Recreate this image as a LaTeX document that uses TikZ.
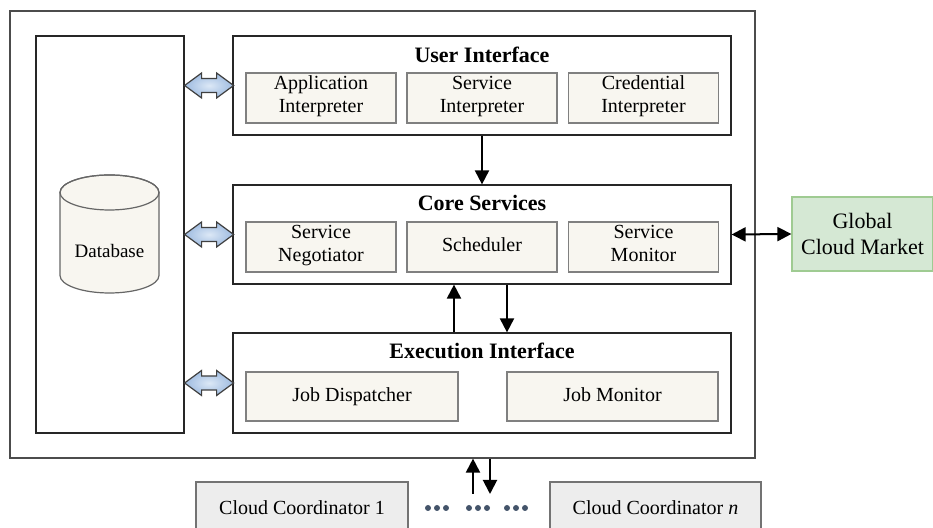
\documentclass[tikz,border=0pt]{standalone}
\usepackage{fontspec}
\setmainfont{Liberation Serif}
\usetikzlibrary{arrows.meta}

\definecolor{compfill}{HTML}{F8F6F0}
\definecolor{gcmfill}{HTML}{D5E8D4}
\definecolor{gcmline}{HTML}{9FCB92}
\definecolor{coordfill}{HTML}{EDEDED}
\definecolor{arrlight}{HTML}{DCE8F6}
\definecolor{arrdark}{HTML}{9EBBE0}
\definecolor{dotc}{HTML}{44546A}

\begin{document}
\begin{tikzpicture}[x=0.5pt,y=0.5pt,
    box/.style={draw=black!85,line width=0.6pt,fill=white,inner sep=0pt},
    comp/.style={draw=black!50,line width=0.6pt,fill=compfill,inner sep=0pt,minimum height=25pt,align=center,font=\fontsize{10}{11.5}\selectfont,execute at begin node=\strut,execute at end node=\strut},
    title/.style={font=\fontsize{11}{13}\selectfont\bfseries},
    conn/.style={line width=1pt,-{Triangle[length=7pt,width=7pt]}},
    blockarr/.style={draw=black!75,line width=0.6pt,inner color=arrlight,outer color=arrdark},
    coord/.style={draw=black!55,line width=0.6pt,fill=coordfill,minimum width=106pt,minimum height=26pt,font=\fontsize{10}{12}\selectfont}]
    \path[use as bounding box,clip] (0,0) rectangle (933,528);
    % broker frame and database column
    \node[box,draw=black!70,minimum width=372.5pt,minimum height=223.5pt] (broker) at (382.5,293.5) {};
    \node[box,minimum width=74pt,minimum height=198.5pt] (db) at (110,293.5) {};
    \draw[draw=black!60,line width=0.6pt,fill=compfill] (60,335.5) -- (60,252.5) arc[start angle=180,end angle=360,x radius=49.5,y radius=17.5] -- (159,335.5) arc[start angle=0,end angle=180,x radius=49.5,y radius=17.5] -- cycle;
    \draw[draw=black!60,line width=0.6pt] (109.5,335.5) ellipse[x radius=49.5,y radius=17.5];
    \node[font=\fontsize{9.5}{11}\selectfont] (dbT) at (109.5,277) {Database};
    % user interface
    \node[box,minimum width=249pt,minimum height=49.5pt] (ui) at (482,442.5) {};
    \node[title] (uiT) at ([yshift=-9.5pt]ui.north) {User Interface};
    \node[comp,minimum width=75pt] (app) at (321,430) {Application\\Interpreter};
    \node[comp,minimum width=75pt] (svcI) at (482,430) {Service\\Interpreter};
    \node[comp,minimum width=75pt] (cred) at (643.5,430) {Credential\\Interpreter};
    % core services
    \node[box,minimum width=249pt,minimum height=49.5pt] (core) at (482,293.5) {};
    \node[title] (coreT) at ([yshift=-9.5pt]core.north) {Core Services};
    \node[comp,minimum width=75pt] (nego) at (321,281) {Service\\Negotiator};
    \node[comp,minimum width=75pt] (sched) at (482,281) {Scheduler};
    \node[comp,minimum width=75pt] (mon) at (643.5,281) {Service\\Monitor};
    % execution interface
    \node[box,minimum width=249pt,minimum height=50pt] (exec) at (482,145) {};
    \node[title] (execT) at ([yshift=-9.5pt]exec.north) {Execution Interface};
    \node[comp,minimum width=106pt,minimum height=24.5pt] (disp) at (352,131.5) {Job Dispatcher};
    \node[comp,minimum width=105.5pt,minimum height=24.5pt] (jmon) at (612.5,131.5) {Job Monitor};
    % outside
    \node[draw=gcmline,line width=0.6pt,fill=gcmfill,minimum width=70.5pt,minimum height=37pt,align=center,font=\fontsize{11}{13}\selectfont] (gcm) at (862.5,294) {Global\\Cloud Market};
    \node[coord] (cc1) at (302,20) {Cloud Coordinator 1};
    \node[coord,minimum width=105.5pt] (ccn) at (655.5,20) {Cloud Coordinator \textit{n}};
    % connectors
    \draw[conn] (ui.south) -- (core.north);
    \draw[conn] ([xshift=-14pt]exec.north) -- ([xshift=-14pt]core.south);
    \draw[conn] ([xshift=12.5pt]core.south) -- ([xshift=12.5pt]exec.north);
    \draw[conn,{Triangle[length=7pt,width=7pt]}-{Triangle[length=7pt,width=7pt]}] (core.east) -- (gcm.west);
    \coordinate (upS) at (473,34);
    \coordinate (dnE) at (490,34);
    \draw[conn] (upS) -- (upS |- broker.south);
    \draw[conn] (dnE |- broker.south) -- (dnE);
    \foreach \layer in {ui,core,exec}
        \draw[blockarr] (db.east |- \layer) -- ++(17,12.5) -- ++(0,-5.5) -- ++(15,0) -- ++(0,5.5) -- ++(17,-12.5) -- ++(-17,-12.5) -- ++(0,5.5) -- ++(-15,0) -- ++(0,-5.5) -- cycle;
    % dots between coordinators
    \foreach \c in {437,478,516}
        \foreach \d in {-9,0,9}
            \fill[dotc] (\c+\d,20) circle[radius=3];
\end{tikzpicture}
\end{document}
